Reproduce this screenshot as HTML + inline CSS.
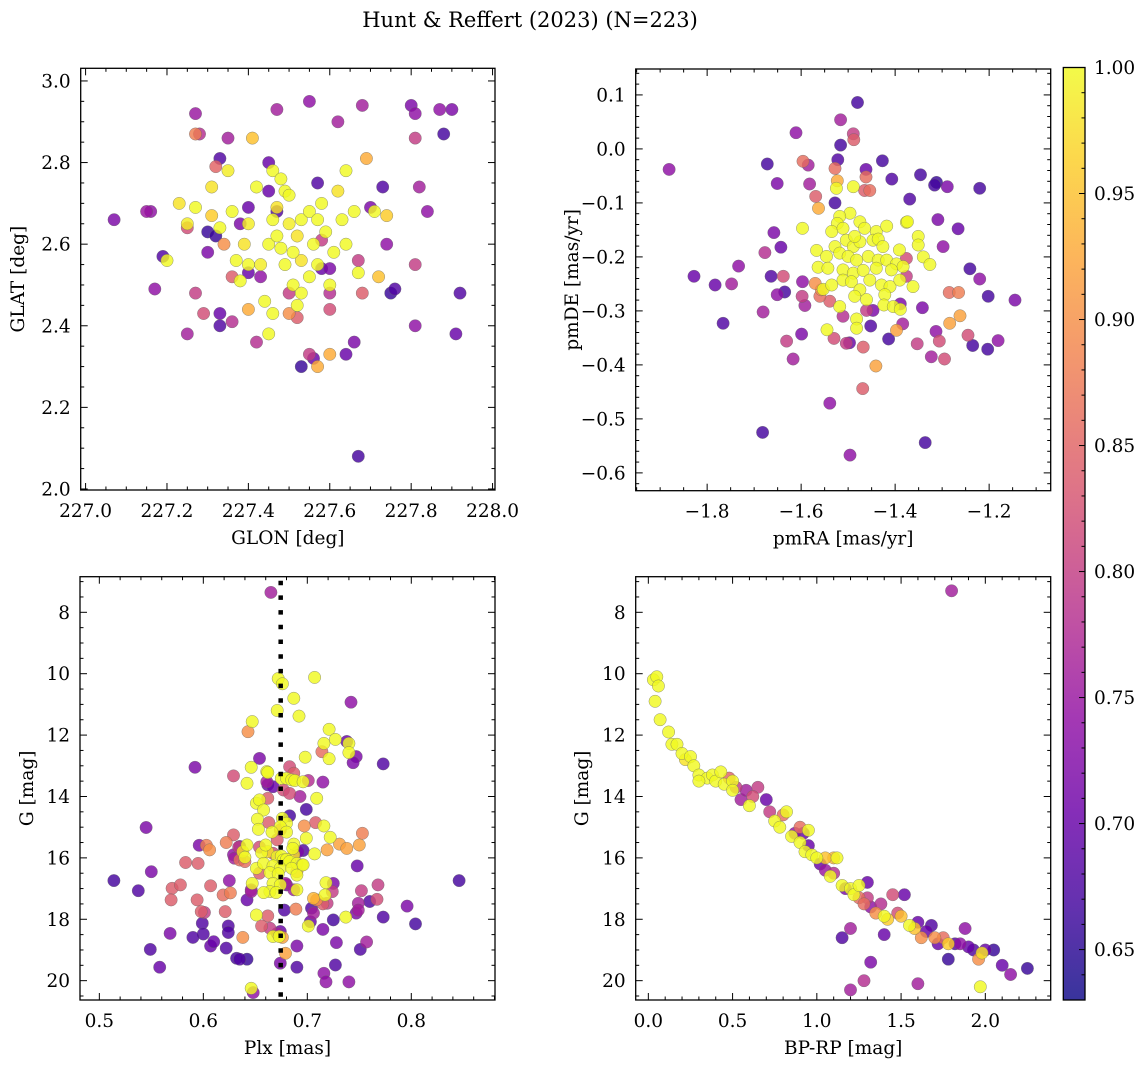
<!DOCTYPE html>
<html><head><meta charset="utf-8"><title>Hunt & Reffert (2023)</title>
<style>
html,body{margin:0;padding:0;background:#fff;}
svg{display:block;font-family:"DejaVu Serif","Liberation Serif",serif;}
</style></head>
<body>
<svg id="fig" width="1148" height="1067" viewBox="0 0 1148 1067" xmlns="http://www.w3.org/2000/svg">
<text x="530" y="27" text-anchor="middle" font-size="21">Hunt &amp; Reffert (2023) (N=223)</text>
</svg>
<script>
// ---------- Panel 1: GLON / GLAT ----------
const glon = [227.07,227.15,227.16,227.17,227.19,227.27,227.28,227.25,227.27,227.29,227.3,227.32,227.33,227.35,227.33,227.33,227.36,227.38,227.4,227.42,227.45,227.47,227.5,227.53,227.55,227.55,227.56,227.57,227.58,227.6,227.62,227.64,227.66,227.67,227.68,227.7,227.73,227.75,227.76,227.8,227.81,227.81,227.82,227.84,227.81,227.87,227.9,227.88,227.91,227.92,227.81,227.74,227.67,227.68,227.6,227.45,227.47,227.43,227.4,227.36,227.3,227.52,227.58,227.6,227.25,227.34,227.27,227.32,
227.2,227.23,227.25,227.27,227.31,227.31,227.33,227.35,227.36,227.37,227.38,227.39,227.4,227.4,227.41,227.42,227.43,227.44,227.45,227.46,227.46,227.47,227.48,227.48,227.49,227.49,227.5,227.5,227.51,227.51,227.52,227.53,227.53,227.55,227.55,227.56,227.57,227.57,227.58,227.59,227.6,227.61,227.62,227.63,227.64,227.64,227.66,227.67,227.69,227.71,227.72,227.74,227.6,227.57,227.46,227.5,227.52,227.4,227.45,227.53,227.47];
const glat = [2.66,2.68,2.68,2.49,2.57,2.92,2.87,2.38,2.48,2.43,2.63,2.62,2.81,2.86,2.40,2.43,2.41,2.65,2.69,2.36,2.80,2.93,2.48,2.30,2.95,2.33,2.32,2.75,2.54,2.54,2.90,2.33,2.36,2.08,2.94,2.69,2.74,2.48,2.49,2.94,2.92,2.86,2.74,2.68,2.40,2.93,2.93,2.87,2.38,2.48,2.55,2.6,2.56,2.48,2.48,2.73,2.68,2.52,2.53,2.52,2.58,2.42,2.61,2.44,2.64,2.6,2.87,2.79,
2.56,2.7,2.65,2.69,2.74,2.67,2.64,2.78,2.68,2.56,2.51,2.6,2.65,2.55,2.86,2.74,2.55,2.46,2.6,2.66,2.78,2.69,2.76,2.59,2.55,2.73,2.72,2.65,2.5,2.58,2.62,2.66,2.48,2.52,2.68,2.6,2.55,2.66,2.7,2.63,2.5,2.58,2.73,2.66,2.6,2.78,2.68,2.53,2.81,2.68,2.52,2.67,2.33,2.3,2.43,2.43,2.45,2.44,2.38,2.56,2.62];
const prob1 = [.72,.75,.74,.74,.68,.75,.78,.76,.8,.82,.66,.66,.68,.76,.68,.7,.78,.72,.7,.78,.7,.76,.8,.66,.74,.8,.7,.68,.7,.72,.76,.7,.72,.67,.76,.72,.68,.66,.68,.72,.74,.8,.76,.74,.74,.74,.72,.67,.7,.68,.8,.74,.8,.84,.78,.7,.68,.74,.7,.84,.72,.84,.8,.82,.82,.9,.88,.85,
1,.98,.99,1,.98,.96,1,.99,1,1,1,.98,.99,1,.95,1,.99,1,1,1,1,.98,1,1,1,1,1,.99,1,1,.98,1,1,1,1,1,1,1,1,1,1,1,.98,1,1,1,1,1,.93,1,.95,.96,.93,.93,1,.9,1,.93,1,.98,1];

// ---------- Panel 2: pmRA / pmDE ----------
const pmra = [-1.480,-1.516,-1.611,-1.489,-1.488,-1.516,-1.672,-1.596,-1.585,-1.522,-1.528,-1.462,-1.462,-1.427,-1.407,-1.346,-1.312,-1.316,-1.289,-1.220,-1.651,-1.582,-1.523,-1.465,-1.454,-1.569,-1.563,-1.528,-1.369,-1.309,-1.266,-1.298,-1.241,-1.220,-1.202,-1.145,-1.658,-1.643,-1.677,-1.733,-1.828,-1.783,-1.748,-1.664,-1.638,-1.635,-1.651,-1.597,-1.598,-1.592,-1.681,-1.766,-1.599,-1.631,-1.617,-1.539,-1.682,-1.336,-1.496,-1.469,-1.441,-1.285,-1.265,-1.284,-1.262,-1.245,-1.235,-1.203,-1.181,-1.313,-1.306,-1.295,-1.323,-1.353,-1.342,-1.414,-1.397,-1.384,-1.452,-1.468,-1.530,-1.504,-1.497,-1.511,-1.461,-1.447,-1.560,-1.539,-1.557,-1.570,-1.376,-1.376,-1.389,-1.881,
-1.496,-1.518,-1.475,-1.523,-1.535,-1.511,-1.465,-1.440,-1.418,-1.391,-1.567,-1.546,-1.528,-1.504,-1.489,-1.475,-1.447,-1.518,-1.500,-1.482,-1.457,-1.436,-1.418,-1.397,-1.383,-1.564,-1.543,-1.511,-1.489,-1.468,-1.440,-1.408,-1.553,-1.535,-1.511,-1.493,-1.475,-1.454,-1.429,-1.411,-1.390,-1.362,-1.486,-1.461,-1.422,-1.424,-1.404,-1.389,-1.518,-1.482,-1.482,-1.545,-1.436,-1.376,-1.486,-1.426,-1.351,-1.351,-1.340,-1.326,-1.374,-1.597,-1.525,-1.489];
const pmde = [0.086,0.054,0.030,0.028,0.017,0.007,-0.028,-0.023,-0.030,-0.020,-0.036,-0.038,-0.052,-0.022,-0.056,-0.048,-0.062,-0.067,-0.070,-0.073,-0.064,-0.065,-0.059,-0.077,-0.077,-0.088,-0.110,-0.100,-0.093,-0.131,-0.148,-0.181,-0.222,-0.241,-0.273,-0.280,-0.155,-0.182,-0.192,-0.217,-0.236,-0.252,-0.250,-0.236,-0.236,-0.265,-0.270,-0.246,-0.273,-0.290,-0.302,-0.323,-0.343,-0.356,-0.389,-0.471,-0.525,-0.544,-0.567,-0.444,-0.402,-0.266,-0.266,-0.323,-0.309,-0.345,-0.364,-0.371,-0.355,-0.338,-0.356,-0.389,-0.385,-0.361,-0.294,-0.352,-0.336,-0.324,-0.328,-0.367,-0.351,-0.360,-0.359,-0.310,-0.299,-0.299,-0.273,-0.282,-0.261,-0.249,-0.203,-0.236,-0.287,-0.038,
-0.119,-0.125,-0.135,-0.138,-0.153,-0.147,-0.147,-0.153,-0.143,-0.187,-0.188,-0.199,-0.181,-0.169,-0.181,-0.172,-0.169,-0.193,-0.199,-0.206,-0.199,-0.206,-0.206,-0.213,-0.218,-0.219,-0.221,-0.224,-0.230,-0.225,-0.221,-0.224,-0.260,-0.252,-0.243,-0.246,-0.261,-0.243,-0.252,-0.255,-0.243,-0.255,-0.273,-0.279,-0.270,-0.289,-0.292,-0.297,-0.292,-0.315,-0.332,-0.335,-0.167,-0.136,-0.162,-0.181,-0.162,-0.178,-0.200,-0.214,-0.135,-0.147,-0.073,-0.070];
const prob2 = [.67,.76,.74,.8,.84,.67,.67,.86,.76,.68,.86,.70,.86,.67,.68,.67,.66,.67,.72,.67,.72,.76,.93,.84,.86,.84,.93,.67,.68,.72,.70,.74,.67,.74,.67,.72,.72,.70,.78,.74,.70,.70,.76,.68,.82,.67,.74,.74,.80,.76,.76,.68,.72,.80,.76,.74,.67,.67,.74,.84,.92,.86,.88,.92,.92,.82,.67,.67,.74,.74,.82,.82,.76,.80,.72,.67,.92,.76,.68,.84,.82,.80,.70,.78,.80,.72,.86,.84,.90,.90,.82,.80,.72,.74,
1,1,1,1,1,1,1,1,1,1,1,1,1,1,1,1,1,1,1,1,1,1,1,1,1,1,1,1,1,1,1,1,1,1,1,1,1,1,1,1,1,1,1,1,1,1,1,1,1,1,1,1,1,1,1,1,1,1,1,1,1,1,1,1];

// ---------- Panel 3: Plx / G ----------
const plx = [0.665,0.514,0.5375,0.545,0.550,0.549,0.558,0.568,0.570,0.569,0.578,0.583,0.595,0.592,0.596,0.603,0.606,0.594,0.598,0.601,0.599,0.600,0.590,0.607,0.610,0.607,0.619,0.626,0.621,0.624,0.624,0.622,0.625,0.629,0.622,0.629,0.635,0.629,0.642,0.635,0.642,0.638,0.648,0.646,0.646,0.654,0.643,0.647,0.672,0.676,0.671,0.707,0.687,0.692,0.721,0.727,0.716,0.721,0.738,0.740,0.740,0.747,0.744,0.742,0.773,0.714,0.698,0.646,0.642,0.661,0.662,0.661,0.683,0.687,0.675,0.680,0.685,0.688,0.696,0.715,0.701,0.662,0.667,0.677,0.683,0.693,0.709,0.651,0.654,0.658,0.662,0.683,0.699,0.676,0.680,0.674,0.652,0.653,0.663,0.674,0.666,0.680,0.671,0.697,0.708,0.716,0.699,0.722,0.731,0.738,0.750,0.753,
0.634,0.642,0.638,0.640,0.630,0.635,0.640,0.654,0.656,0.660,0.662,0.667,0.671,0.675,0.677,0.687,0.686,0.691,0.696,0.687,0.680,0.683,0.690,0.695,0.707,0.719,0.651,0.658,0.667,0.674,0.664,0.672,0.654,0.685,0.690,0.696,0.690,0.748,0.667,0.674,0.664,0.670,0.658,0.647,0.646,0.679,0.680,0.687,0.690,0.718,0.725,0.717,0.724,0.719,0.715,0.706,0.709,0.752,0.768,0.767,0.760,0.749,0.747,0.749,0.796,0.804,0.773,0.846,0.704,0.706,0.689,0.678,0.651,0.662,0.656,0.664,0.671,0.674,0.667,0.673,0.676,0.701,0.703,0.715,0.725,0.728,0.737,0.757,0.751,0.690,0.727,0.690,0.716,0.718,0.740,0.679,0.674,0.632];
const gmag3 = [7.35,16.74,17.07,15.01,16.45,18.98,19.56,18.46,16.99,17.37,16.88,16.15,16.18,13.05,15.59,15.59,15.74,17.37,17.75,17.78,18.13,18.48,18.59,18.87,18.73,16.91,17.21,17.14,17.75,18.22,18.43,18.94,16.74,13.33,15.50,15.25,15.63,15.90,19.30,19.30,17.37,18.59,20.39,20.25,17.04,12.76,11.89,11.56,10.16,10.33,11.20,10.12,10.80,11.38,11.81,12.14,12.27,12.77,12.21,12.27,12.57,12.70,12.90,10.93,12.94,12.54,12.72,13.05,13.57,13.19,13.22,13.52,13.03,13.24,13.41,13.41,13.46,13.48,13.52,13.53,13.48,13.62,13.68,13.79,13.90,14.00,14.06,14.22,14.11,14.44,14.06,14.63,14.42,14.71,14.87,14.98,14.74,15.07,14.85,15.09,15.16,15.16,15.41,14.96,14.85,14.96,15.36,15.33,15.55,15.69,15.58,15.20,
15.65,15.58,15.80,15.98,16.01,16.07,16.12,15.65,15.83,15.58,15.80,15.85,15.96,15.94,16.07,15.55,15.69,15.80,15.76,15.90,16.05,16.12,16.18,16.23,15.87,15.74,16.34,16.18,16.26,16.34,16.48,16.52,16.50,16.34,16.45,16.23,16.56,16.26,16.83,16.88,17.10,17.13,17.13,16.83,17.10,16.83,16.88,17.04,17.04,16.81,16.83,17.21,17.10,17.48,17.50,17.32,17.37,17.07,16.88,17.35,17.42,17.48,17.80,17.70,17.57,18.15,17.93,16.74,17.64,17.80,17.67,17.70,17.86,17.89,18.22,18.29,18.46,18.40,18.56,18.56,18.59,18.22,18.08,18.33,18.02,18.76,17.93,18.74,18.98,18.87,19.49,19.56,19.76,20.04,20.04,19.11,19.43,19.27];
const prob3 = [.76,.67,.68,.72,.72,.68,.70,.72,.84,.84,.84,.84,.84,.72,.72,.88,.90,.84,.84,.80,.68,.68,.68,.70,.70,.84,.86,.88,.84,.68,.68,.68,.74,.82,.88,.84,.70,.74,.66,.68,.70,.90,.74,1,.76,.72,.90,1,1,1,1,1,1,1,1,1,1,1,.70,1,1,.72,.72,.74,.68,.86,1,1,1,1,1,.76,.82,.84,1,1,1,1,1,.74,.78,.70,.70,.82,.82,.76,1,1,1,1,.84,.67,.67,1,1,1,1,1,.84,.86,1,1,.84,.90,.84,1,1,1,.92,.92,.92,.88,
.80,1,.98,1,.76,.86,.86,.82,1,1,.98,.82,1,1,1,1,1,.72,.68,.98,1,1,1,1,1,.92,1,1,1,1,1,1,.84,1,.94,1,1,.70,1,1,1,1,1,1,.76,.76,.72,.76,1,1,.72,1,.80,.80,.84,.94,.90,.80,.80,.82,.68,.76,.72,.76,.72,.67,.68,.67,.68,.76,.88,.68,1,.84,.84,.80,.76,.70,1,1,.92,1,.70,.72,.67,.72,1,.76,.68,.72,.68,.68,.74,.74,.74,.92,.72,.67];
const plxRef = [0.6744];

// ---------- Panel 4: BP-RP / G ----------
const bprp = [0.03,0.05,0.06,0.04,0.07,0.12,0.14,0.17,0.2,0.22,0.25,0.27,0.3,0.35,0.38,0.4,0.43,0.45,0.48,0.5,0.52,0.55,0.58,0.6,0.62,0.65,0.7,0.72,0.75,0.78,0.8,0.82,0.85,0.87,0.9,0.92,0.93,0.95,0.97,1.0,1.02,1.05,1.08,1.1,1.12,1.15,1.17,1.2,1.22,1.25,1.28,1.3,1.32,1.35,1.38,1.4,1.42,1.45,1.48,1.5,1.52,1.55,1.58,1.6,1.62,1.65,1.68,1.7,1.72,1.75,1.78,1.82,1.85,1.88,1.9,1.93,1.96,1.98,2.0,2.05,2.1,2.15,2.25,1.78,1.97,1.2,1.28,1.32,1.6,1.15,1.2,1.8,1.1,0.9,1.3,1.4,0.3,0.5,1.05,0.95,1.25];
const gmag4 = [10.2,10.1,10.4,10.9,11.5,11.9,12.3,12.3,12.6,12.8,12.7,13.0,13.3,13.4,13.3,13.5,13.2,13.6,13.4,13.5,13.7,14.1,13.8,14.3,14.0,13.7,14.1,14.5,14.8,15.0,14.6,14.5,15.3,15.2,15.5,15.2,15.8,15.6,15.9,16.0,16.2,16.4,16.6,16.5,16.0,16.9,17.0,17.0,17.2,17.3,17.5,17.3,17.6,17.8,17.5,17.9,18.0,17.2,17.8,17.9,17.2,18.2,18.3,18.1,18.6,18.4,18.2,18.6,18.8,18.6,18.8,18.8,18.8,18.3,18.9,19.0,19.3,19.1,19.0,19.0,19.5,19.8,19.6,19.3,20.2,20.3,20.0,19.4,20.1,18.6,18.3,7.3,16.0,15.0,16.8,18.5,13.5,13.8,16.0,15.1,16.9];
const prob4 = [1,1,1,1,1,1,1,1,1,.98,1,1,1,1,1,1,1,1,.85,1,.8,.76,.76,1,.82,.8,.7,.8,1,1,.86,1,1,.74,1,.7,1,.7,1,1,.7,.75,1,.78,1,1,.72,1,1,.86,.86,.8,.74,.9,.78,1,.96,.82,.82,.95,.7,1,.95,.7,.9,.7,.68,.9,.7,.86,.96,.68,.74,.74,.7,.68,.9,.98,.7,.66,.7,.74,.66,.66,1,.76,.78,.72,.76,.68,.76,.76,.94,.86,.7,.7,1,1,.95,1,1];

// ---------- Colorbar ----------
const cbarTicks = [0.65,0.70,0.75,0.80,0.85,0.90,0.95,1.00];
const cbarRange = [0.630,1.0];

const NS='http://www.w3.org/2000/svg';
const svg=document.getElementById('fig');
const FS=18.5;
function el(tag,attrs,parent){const e=document.createElementNS(NS,tag);for(const k in attrs)e.setAttribute(k,attrs[k]);(parent||svg).appendChild(e);return e;}

const stops=[[0,[13,8,135]],[.1,[65,4,157]],[.2,[106,0,168]],[.3,[143,13,164]],[.4,[177,42,144]],[.5,[204,71,120]],[.6,[225,100,98]],[.7,[242,132,75]],[.8,[252,166,54]],[.9,[252,206,37]],[1,[240,249,33]]];
function plasma(t){t=Math.max(0,Math.min(1,t));for(let i=1;i<stops.length;i++){if(t<=stops[i][0]){const a=stops[i-1],b=stops[i];const f=(t-a[0])/(b[0]-a[0]);const c=a[1].map((v,j)=>Math.round(v+(b[1][j]-v)*f));return 'rgb('+c.join(',')+')';}}return 'rgb(240,249,33)';}
function norm(c){return (c-cbarRange[0])/(cbarRange[1]-cbarRange[0]);}
function fmt(v,d){const s=Math.abs(v).toFixed(d);return (v<-1e-9?'\u2212':'')+s;}

function panel(cfg){
  const g=el('g',{});
  
  
  const {L,T,R,B}=cfg;
  const sx=v=>L+(v-cfg.x0)/(cfg.x1-cfg.x0)*(R-L);
  const sy=v=>T+(v-cfg.yt)/(cfg.yb-cfg.yt)*(B-T);
  const idx=cfg.xs.map((_,i)=>i).sort((a,b)=>cfg.cs[a]-cfg.cs[b]);
  const pg=el('g',{},g);
  
  
  idx.forEach(i=>{
    const c=el('circle',{cx:sx(cfg.xs[i]).toFixed(1),cy:sy(cfg.ys[i]).toFixed(1),r:6.2,fill:plasma(norm(cfg.cs[i])),'fill-opacity':0.82,stroke:'#666','stroke-width':0.5,'stroke-opacity':0.7},pg);
    
    
  });
  if(cfg.vline){cfg.vline.forEach(v=>{const l=el('line',{x1:sx(v),x2:sx(v),y1:T+4,y2:B,stroke:'#000','stroke-width':4.5,'stroke-dasharray':'4.5 10.2'},g);
    
    });}
  const tg=el('g',{stroke:'#000','stroke-width':1},g);
  function ticks(step,lo,hi){const out=[];const k0=Math.ceil(Math.min(lo,hi)/step-1e-6),k1=Math.floor(Math.max(lo,hi)/step+1e-6);for(let k=k0;k<=k1;k++)out.push(k*step);return out;}
  const xmaj=ticks(cfg.xstep,cfg.x0,cfg.x1), ymaj=ticks(cfg.ystep,cfg.yt,cfg.yb);
  const isMaj=(v,step)=>Math.abs(v/step-Math.round(v/step))<1e-6;
  ticks(cfg.xminor,cfg.x0,cfg.x1).forEach(v=>{if(isMaj(v,cfg.xstep))return;const x=sx(v);el('line',{x1:x,x2:x,y1:B,y2:B-3.5},tg);el('line',{x1:x,x2:x,y1:T,y2:T+3.5},tg);});
  ticks(cfg.yminor,cfg.yt,cfg.yb).forEach(v=>{if(isMaj(v,cfg.ystep))return;const y=sy(v);el('line',{x1:L,x2:L+3.5,y1:y,y2:y},tg);el('line',{x1:R,x2:R-3.5,y1:y,y2:y},tg);});
  xmaj.forEach(v=>{const x=sx(v);el('line',{x1:x,x2:x,y1:B,y2:B-7},tg);el('line',{x1:x,x2:x,y1:T,y2:T+7},tg);
    const t=el('text',{x:x,y:B+27,'text-anchor':'middle','font-size':FS},g);t.textContent=fmt(v,cfg.xdec);
    
    });
  ymaj.forEach(v=>{const y=sy(v);el('line',{x1:L,x2:L+7,y1:y,y2:y},tg);el('line',{x1:R,x2:R-7,y1:y,y2:y},tg);
    const t=el('text',{x:L-10,y:y+6.5,'text-anchor':'end','font-size':FS},g);t.textContent=fmt(v,cfg.ydec);
    
    });
  el('rect',{x:L,y:T,width:R-L,height:B-T,fill:'none',stroke:'#000','stroke-width':1.3},g);
  const xl=el('text',{x:(L+R)/2,y:B+54,'text-anchor':'middle','font-size':FS},g);xl.textContent=cfg.xlabel;
  
  
  const yc=(T+B)/2;
  const yl=el('text',{x:cfg.ylx,y:yc,'text-anchor':'middle','font-size':FS,transform:`rotate(-90 ${cfg.ylx} ${yc})`},g);yl.textContent=cfg.ylabel;
  
  
}

panel({name:'glon-glat-panel',L:80.7,T:68.3,R:495,B:490,x0:226.988,x1:228.006,yt:3.031,yb:1.9975,xstep:0.2,xminor:0.05,ystep:0.2,yminor:0.05,xdec:1,ydec:1,xs:glon,ys:glat,cs:prob1,xlabel:'GLON [deg]',ylabel:'GLAT [deg]',ylx:24});
panel({name:'pm-panel',L:635.7,T:69,R:1050.7,B:490.7,x0:-1.952,x1:-1.069,yt:0.148,yb:-0.633,xstep:0.2,xminor:0.05,ystep:0.1,yminor:0.02,xdec:1,ydec:1,xs:pmra,ys:pmde,cs:prob2,xlabel:'pmRA [mas/yr]',ylabel:'pmDE [mas/yr]',ylx:578});
panel({name:'plx-g-panel',L:80,T:576.7,R:495,B:1000,x0:0.4814,x1:0.8805,yt:6.84,yb:20.63,xstep:0.1,xminor:0.02,ystep:2,yminor:0.5,xdec:1,ydec:0,xs:plx,ys:gmag3,cs:prob3,xlabel:'Plx [mas]',ylabel:'G [mag]',ylx:33,vline:plxRef});
panel({name:'cmd-panel',L:635.7,T:576.7,R:1050.7,B:1000,x0:-0.075,x1:2.388,yt:6.84,yb:20.63,xstep:0.5,xminor:0.1,ystep:2,yminor:0.5,xdec:1,ydec:0,xs:bprp,ys:gmag4,cs:prob4,xlabel:'BP-RP [mag]',ylabel:'G [mag]',ylx:588});

(function(){
  const L=1063.3,R=1085,T=67.5,B=1000;
  const g=el('g',{});
  
  
  const defs=el('defs',{},g);
  const lg=el('linearGradient',{id:'cbg',x1:0,y1:1,x2:0,y2:0},defs);
  for(let i=0;i<=20;i++){const t=i/20;el('stop',{offset:t,'stop-color':plasma(t)},lg);}
  el('rect',{x:L,y:T,width:R-L,height:B-T,fill:'url(#cbg)','fill-opacity':0.82},g);
  const sy=v=>B-(v-cbarRange[0])/(cbarRange[1]-cbarRange[0])*(B-T);
  for(let k=Math.ceil(cbarRange[0]*100);k<=100;k++){const v=k/100;const y=sy(v);const maj=k%5===0;
    el('line',{x1:R,x2:R-(maj?6:3.5),y1:y,y2:y,stroke:'#000','stroke-width':1},g);}
  cbarTicks.forEach(v=>{const t=el('text',{x:R+9,y:sy(v)+6.5,'font-size':FS},g);t.textContent=v.toFixed(2);
    
    });
  el('rect',{x:L,y:T,width:R-L,height:B-T,fill:'none',stroke:'#000','stroke-width':1.3},g);
})();
</script>
</body></html>
